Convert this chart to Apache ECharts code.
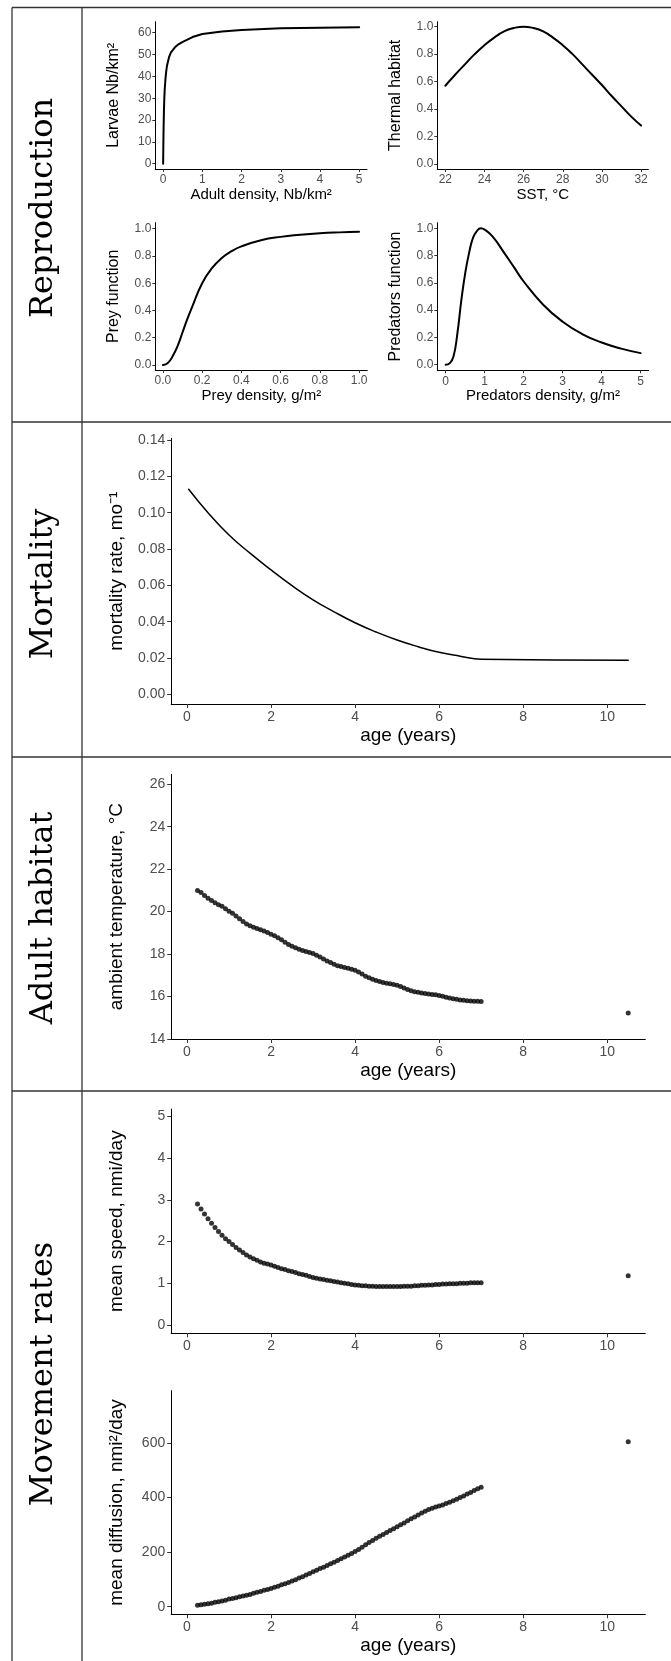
<!DOCTYPE html>
<html>
<head>
<meta charset="utf-8">
<title>Model functions by age</title>
<script src="https://cdn.jsdelivr.net/npm/echarts@6.0.0/dist/echarts.min.js"></script>
<style>
  html, body { margin: 0; padding: 0; background: #fff; }
  #chart { width: 671px; height: 1661px; }
</style>
</head>
<body>
<div id="chart"></div>
<script>
// ---- values ----

// Reproduction
const larvaeX = [0, 0.005, 0.01, 0.02, 0.03, 0.04, 0.06, 0.08, 0.1, 0.15, 0.2, 0.3, 0.4, 0.5, 0.75, 1.0, 1.5, 2, 3, 4, 5];
const larvaeY = [0, 8, 15, 24, 30, 34, 39, 42.5, 45, 48.8, 51, 53.3, 54.8, 55.8, 58.0, 59.4, 60.6, 61.2, 62.0, 62.3, 62.5];

const sstX = [22, 22.5, 23, 23.5, 24, 24.5, 25, 25.5, 26, 26.5, 27, 27.5, 28, 28.5, 29, 29.5, 30, 30.5, 31, 31.5, 32];
const thermalY = [0.57, 0.65, 0.725, 0.80, 0.865, 0.92, 0.965, 0.99, 1.0, 0.99, 0.965, 0.92, 0.865, 0.80, 0.725, 0.65, 0.575, 0.495, 0.42, 0.345, 0.28];

const preyX = [0, 0.025, 0.05, 0.075, 0.1, 0.125, 0.15, 0.2, 0.25, 0.3, 0.35, 0.4, 0.5, 0.6, 0.7, 0.8, 0.9, 1.0];
const preyY = [0, 0.015, 0.065, 0.14, 0.24, 0.34, 0.43, 0.6, 0.71, 0.785, 0.835, 0.87, 0.915, 0.94, 0.955, 0.966, 0.973, 0.978];

const predX = [0, 0.1, 0.2, 0.3, 0.4, 0.5, 0.6, 0.7, 0.8, 0.9, 1.0, 1.2, 1.5, 1.75, 2.0, 2.5, 3.0, 3.5, 4.0, 4.5, 5.0];
const predY = [0, 0.01, 0.06, 0.23, 0.47, 0.67, 0.82, 0.93, 0.98, 1.0, 0.99, 0.94, 0.82, 0.715, 0.61, 0.44, 0.315, 0.225, 0.163, 0.118, 0.085];

// Mortality
const mortAge = [0.04, 0.5, 1, 1.5, 2, 2.5, 3, 3.5, 4, 4.5, 5, 5.5, 6, 6.5, 7, 10.5];
const mortRate = [0.1129, 0.100, 0.0877, 0.0777, 0.0685, 0.0598, 0.052, 0.0454, 0.0394, 0.0343, 0.0299, 0.0262, 0.0231, 0.021, 0.0193, 0.0187];

// age classes (months) for the habitat and movement panels
const ageMonths = [3, 4, 5, 6, 7, 8, 9, 10, 11, 12,
  13, 14, 15, 16, 17, 18, 19, 20, 21, 22, 23, 24,
  25, 26, 27, 28, 29, 30, 31, 32, 33, 34, 35, 36,
  37, 38, 39, 40, 41, 42, 43, 44, 45, 46, 47, 48,
  49, 50, 51, 52, 53, 54, 55, 56, 57, 58, 59, 60,
  61, 62, 63, 64, 65, 66, 67, 68, 69, 70, 71, 72,
  73, 74, 75, 76, 77, 78, 79, 80, 81, 82, 83, 84,
  126];

const ambientTemp = [21.0, 20.9, 20.76, 20.63, 20.52, 20.42, 20.33, 20.25, 20.14, 20.02,
  19.92, 19.8, 19.66, 19.53, 19.42, 19.33, 19.26, 19.21, 19.15, 19.09, 19.02, 18.94,
  18.86, 18.77, 18.67, 18.56, 18.45, 18.37, 18.3, 18.23, 18.17, 18.12, 18.08, 18.03,
  17.95, 17.86, 17.77, 17.67, 17.6, 17.52, 17.45, 17.41, 17.37, 17.33, 17.29, 17.24,
  17.16, 17.06, 16.96, 16.88, 16.82, 16.76, 16.71, 16.66, 16.63, 16.6, 16.57, 16.53,
  16.47, 16.4, 16.33, 16.27, 16.23, 16.2, 16.17, 16.14, 16.12, 16.1, 16.08, 16.05,
  16.01, 15.97, 15.93, 15.9, 15.87, 15.84, 15.82, 15.8, 15.79, 15.78, 15.78, 15.77,
  15.23];

const meanSpeed = [2.90, 2.78, 2.66, 2.55, 2.44, 2.34, 2.24, 2.15, 2.07, 2.0,
  1.93, 1.86, 1.80, 1.74, 1.68, 1.63, 1.59, 1.55, 1.51, 1.48, 1.46, 1.44,
  1.41, 1.38, 1.35, 1.33, 1.30, 1.28, 1.26, 1.23, 1.21, 1.19, 1.16, 1.14,
  1.12, 1.10, 1.09, 1.07, 1.06, 1.04, 1.03, 1.01, 1.0, 0.99, 0.97, 0.96,
  0.95, 0.94, 0.94, 0.93, 0.93, 0.92, 0.92, 0.92, 0.92, 0.92, 0.92, 0.92,
  0.92, 0.93, 0.93, 0.93, 0.94, 0.94, 0.95, 0.95, 0.96, 0.96, 0.97, 0.97,
  0.98, 0.98, 0.99, 0.99, 0.99, 1.0, 1.0, 1.0, 1.01, 1.01, 1.01, 1.01,
  1.18];

const meanDiffusion = [5, 7, 9, 11, 13, 16, 18, 21, 24, 28,
  30, 33, 36, 39, 42, 45, 49, 53, 56, 60, 63, 67,
  71, 75, 80, 84, 89, 94, 99, 105, 110, 116, 122, 128,
  134, 140, 145, 151, 157, 163, 169, 176, 182, 189, 195, 202,
  210, 218, 227, 235, 243, 251, 258, 265, 272, 279, 286, 293,
  300, 307, 315, 322, 329, 336, 343, 350, 356, 361, 365, 369,
  373, 378, 383, 388, 394, 400, 406, 413, 419, 426, 432, 438,
  605];

// tick labels
const larvaeTicksX = [0, 1, 2, 3, 4, 5];
const larvaeTicksY = [0, 10, 20, 30, 40, 50, 60];
const sstTicks = [22, 24, 26, 28, 30, 32];
const unitTicks = [0, 0.2, 0.4, 0.6, 0.8, 1.0];
const predTicksX = [0, 1, 2, 3, 4, 5];
const ageTicks = [0, 2, 4, 6, 8, 10];
const mortTicks = [0, 0.02, 0.04, 0.06, 0.08, 0.10, 0.12, 0.14];
const tempTicks = [14, 16, 18, 20, 22, 24, 26];
const speedTicks = [0, 1, 2, 3, 4, 5];
const diffTicks = [0, 200, 400, 600];

const rowNames = ['Reproduction', 'Mortality', 'Adult habitat', 'Movement rates'];

// ---- chart ----
const sans = '"Liberation Sans", Arial, Helvetica, sans-serif';
const chart = echarts.init(document.getElementById('chart'));

const f0 = v => String(v);
const f1 = v => v.toFixed(1);
const f2 = v => v.toFixed(2);

const topX = { fs: 12, nfs: 15, tl: 3, m: 5, gap: 18 };
const topY = { fs: 12, nfs: 16, tl: 3, m: 4, gap: 34 };
const lowX = { fs: 14, nfs: 19, tl: 4, m: 6, gap: 22 };
const lowY = { fs: 14, nfs: 19, tl: 4, m: 6, gap: 45 };

function axis(gi, min, max, ticks, fmt, name, s) {
  return {
    type: 'value', gridIndex: gi, min: min, max: max,
    name: name, nameLocation: 'middle', nameGap: s.gap,
    nameTextStyle: { color: '#000', fontSize: s.nfs, fontFamily: sans },
    axisLine: { show: true, onZero: false, lineStyle: { color: '#000', width: 1 } },
    axisTick: { show: true, customValues: ticks, length: s.tl, lineStyle: { color: '#333' } },
    axisLabel: { customValues: ticks, formatter: fmt, color: '#4d4d4d', fontSize: s.fs, fontFamily: sans, margin: s.m },
    splitLine: { show: false }
  };
}

const zip = (xs, ys) => xs.map((x, i) => [x, ys[i]]);
const byAge = ys => ageMonths.map((m, i) => [m / 12, ys[i]]);

function curve(i, data, w, sm) {
  return {
    type: 'line', xAxisIndex: i, yAxisIndex: i, data: data,
    showSymbol: false, smooth: sm, silent: true,
    lineStyle: { color: '#000', width: w, join: 'round', cap: 'round' }
  };
}
function dots(i, data) {
  return {
    type: 'scatter', xAxisIndex: i, yAxisIndex: i, data: data,
    symbol: 'circle', symbolSize: 5, silent: true,
    itemStyle: { color: '#000' }
  };
}

const ageMin = -0.376, ageMax = 10.907;

const frame = [
  { type: 'line', shape: { x1: 12, y1: 7.5, x2: 671, y2: 7.5 } },
  { type: 'line', shape: { x1: 12, y1: 422, x2: 671, y2: 422 } },
  { type: 'line', shape: { x1: 12, y1: 757, x2: 671, y2: 757 } },
  { type: 'line', shape: { x1: 12, y1: 1091, x2: 671, y2: 1091 } },
  { type: 'line', shape: { x1: 12, y1: 7.5, x2: 12, y2: 1661 } },
  { type: 'line', shape: { x1: 82, y1: 7.5, x2: 82, y2: 1661 } }
].map(l => Object.assign(l, { silent: true, style: { stroke: '#333', lineWidth: 1.3 } }));

const rowCenters = [208, 584, 918, 1374];
const rowLabels = rowNames.map((t, i) => ({
  type: 'text', x: 44, y: rowCenters[i], rotation: Math.PI / 2, silent: true,
  style: { text: t, fontSize: 32, fontFamily: '"DejaVu Serif", serif', fill: '#000', align: 'center', verticalAlign: 'middle' }
}));

chart.setOption({
  animation: false,
  backgroundColor: '#fff',
  grid: [
    { left: 155.3, top: 21.7, width: 211.7, height: 147.3 },
    { left: 437.3, top: 21.7, width: 211, height: 147.3 },
    { left: 155.3, top: 222.7, width: 212, height: 147.3 },
    { left: 437.3, top: 222.7, width: 211.4, height: 147.6 },
    { left: 171.2, top: 438.3, width: 474.1, height: 265.7 },
    { left: 171.2, top: 774.3, width: 474.1, height: 264.7 },
    { left: 171.2, top: 1109, width: 474.1, height: 224.3 },
    { left: 171.2, top: 1390.7, width: 474.1, height: 223.6 }
  ],
  xAxis: [
    axis(0, -0.2, 5.2, larvaeTicksX, f0, 'Adult density, Nb/km²', topX),
    axis(1, 21.59, 32.37, sstTicks, f0, 'SST, °C', topX),
    axis(2, -0.039, 1.042, unitTicks, f1, 'Prey density, g/m²', topX),
    axis(3, -0.215, 5.205, predTicksX, f0, 'Predators density, g/m²', topX),
    axis(4, ageMin, ageMax, ageTicks, f0, 'age (years)', lowX),
    axis(5, ageMin, ageMax, ageTicks, f0, 'age (years)', lowX),
    axis(6, ageMin, ageMax, ageTicks, f0, '', lowX),
    axis(7, ageMin, ageMax, ageTicks, f0, 'age (years)', lowX)
  ],
  yAxis: [
    axis(0, -2.43, 65.04, larvaeTicksY, f0, 'Larvae Nb/km²', topY),
    axis(1, -0.036, 1.036, unitTicks, f1, 'Thermal habitat', topY),
    axis(2, -0.037, 1.044, unitTicks, f1, 'Prey function', topY),
    axis(3, -0.041, 1.041, unitTicks, f1, 'Predators function', topY),
    axis(4, -0.00534, 0.14094, mortTicks, f2, 'mortality rate, mo⁻¹', lowY),
    axis(5, 14, 26.47, tempTicks, f0, 'ambient temperature, °C', lowY),
    axis(6, -0.2, 5.18, speedTicks, f0, 'mean speed, nmi/day', lowY),
    axis(7, -27.9, 791.7, diffTicks, f0, 'mean diffusion, nmi²/day', lowY)
  ],
  series: [
    curve(0, zip(larvaeX, larvaeY), 2, false),
    curve(1, zip(sstX, thermalY), 2, 0.5),
    curve(2, zip(preyX, preyY), 2, 0.5),
    curve(3, zip(predX, predY), 2, 0.5),
    curve(4, zip(mortAge, mortRate), 1.5, 0.5),
    dots(5, byAge(ambientTemp)),
    dots(6, byAge(meanSpeed)),
    dots(7, byAge(meanDiffusion))
  ],
  graphic: frame.concat(rowLabels)
});
</script>
</body>
</html>
